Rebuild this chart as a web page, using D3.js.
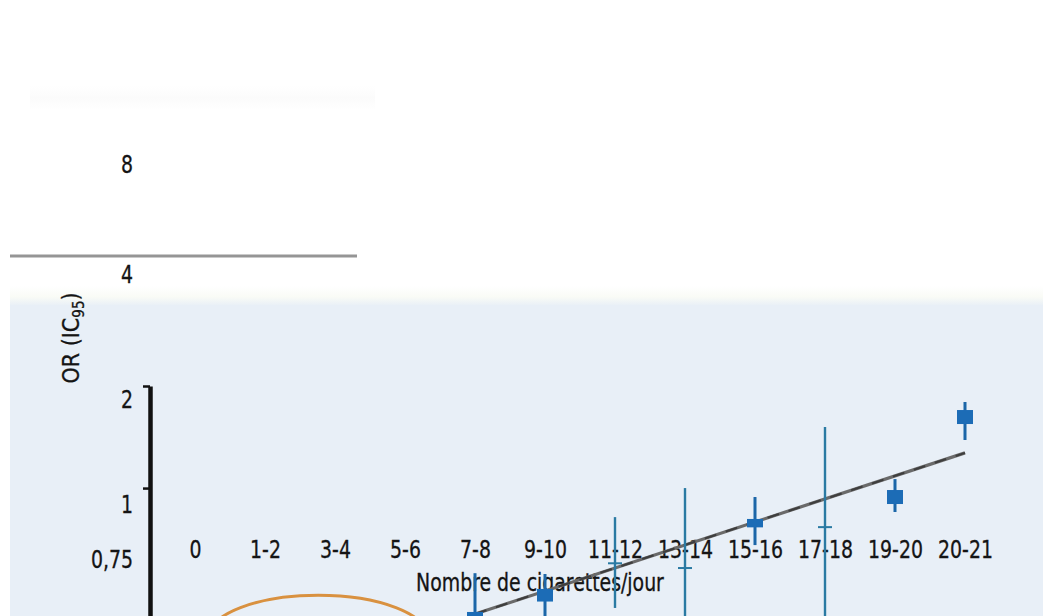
<!DOCTYPE html>
<html lang="fr">
<head>
<meta charset="utf-8">
<script src="https://cdn.jsdelivr.net/npm/d3@7"></script>
<style>
  html, body { margin: 0; padding: 0; background: #fff; }
  svg { display: block; }
  text { font-family: "DejaVu Sans Condensed", "DejaVu Sans", sans-serif; fill: #141414; stroke: #141414; stroke-width: 0.3px; }
</style>
</head>
<body>
<svg id="chart" width="1043" height="616"></svg>
<script>
// Catégories de consommation (cigarettes par jour)
const categories = ["0", "1-2", "3-4", "5-6", "7-8", "9-10", "11-12", "13-14", "15-16", "17-18", "19-20", "20-21"];

// Odds ratios et intervalles de confiance à 95 % (null = non visible)
const orValeurs = [null, null, null, null, 0.42, 0.483, 0.600, 0.581, 0.788, 0.767, 0.941, 1.620];
const icBas     = [null, null, null, null, 0.30, 0.36,  0.443, 0.35,  0.679, 0.35,  0.850, 1.386];
const icHaut    = [null, null, null, null, 0.561, 0.558, 0.821, 1.00, 0.941, 1.514, 1.063, 1.794];
// Poids relatif de chaque estimation (hauteur du carré)
const poids     = [null, null, null, null, 0.55, 0.9, 0.12, 0.12, 0.6, 0.12, 1.0, 1.0];

// Droite de tendance (OR ajusté aux extrémités)
const tendanceCat = ["7-8", "20-21"];
const tendanceOR  = [0.425, 1.27];

// Graduations de l'axe des OR
const graduations = [0.75, 1, 2, 4, 8];
const graduationsLabels = ["0,75", "1", "2", "4", "8"];

// Regroupement des faibles consommations (indice central, demi-largeur en catégories, OR haut / centre)
const regroupementCentre = [1.76];
const regroupementDemiLargeur = [1.57];
const regroupementOR = [0.483, 0.363];

const svg = d3.select("#chart");
const W = 1043, H = 616;
const ETROIT = 0.875; // compression horizontale du texte (police étroite)

// Fond : partie haute blanche, panneau bleuté en bas
const defs = svg.append("defs");
const fondu = defs.append("linearGradient").attr("id", "fondu").attr("x1", 0).attr("x2", 0).attr("y1", 0).attr("y2", 1);
fondu.append("stop").attr("offset", "0%").attr("stop-color", "#ffffff");
fondu.append("stop").attr("offset", "55%").attr("stop-color", "#f9fbf6");
fondu.append("stop").attr("offset", "100%").attr("stop-color", "#e8eff7");
const bande = defs.append("linearGradient").attr("id", "bande").attr("x1", 0).attr("x2", 0).attr("y1", 0).attr("y2", 1);
bande.append("stop").attr("offset", "0%").attr("stop-color", "#ffffff");
bande.append("stop").attr("offset", "50%").attr("stop-color", "#fbfbfb");
bande.append("stop").attr("offset", "100%").attr("stop-color", "#ffffff");
defs.append("filter").attr("id", "flou")
  .attr("filterUnits", "userSpaceOnUse").attr("x", 0).attr("y", 0).attr("width", W).attr("height", H)
  .append("feGaussianBlur").attr("stdDeviation", 0.6);

svg.append("rect").attr("width", W).attr("height", H).attr("fill", "#ffffff");
svg.append("rect").attr("x", 30).attr("y", 86).attr("width", 345).attr("height", 24).attr("fill", "url(#bande)");
svg.append("rect").attr("x", 10).attr("y", 286).attr("width", W - 10).attr("height", 20).attr("fill", "url(#fondu)");
svg.append("rect").attr("x", 10).attr("y", 305).attr("width", W - 10).attr("height", H - 305).attr("fill", "#e8eff7");

// Trait de séparation gris
svg.append("line")
  .attr("x1", 10).attr("x2", 357).attr("y1", 256).attr("y2", 256)
  .attr("stroke", "#959595").attr("stroke-width", 3.2).attr("filter", "url(#flou)");

// Échelles
const x = d3.scalePoint().domain(categories).range([195, 965]);
const xi = d3.scaleLinear().domain([0, categories.length - 1]).range([195, 965]);
const y = d3.scaleLog().base(2).domain([0.4, 2]).range([623, 386]);
const yLabel = d3.scaleLinear().domain(graduations).range([560, 505, 400, 275, 165]);

// Axe vertical (trait noir, graduations 1 et 2)
const axeY = svg.append("g").attr("transform", "translate(150,0)")
  .call(d3.axisLeft(y).tickValues([1, 2]).tickFormat("").tickSize(7).tickSizeOuter(0));
axeY.select(".domain").attr("stroke", "#111").attr("stroke-width", 4.5);
axeY.selectAll(".tick line").attr("stroke", "#111").attr("stroke-width", 2.5);

// Libellés des graduations
const axeLab = svg.append("g").attr("transform", "translate(133,0)")
  .call(d3.axisLeft(yLabel).tickValues(graduations).tickSize(0).tickPadding(0)
    .tickFormat((d, i) => graduationsLabels[i]));
axeLab.select(".domain").remove();
axeLab.selectAll("text").attr("font-size", 24).attr("fill", "#141414")
  .attr("transform", `scale(${ETROIT},1)`)
  .style("font-family", "\"DejaVu Sans Condensed\", \"DejaVu Sans\", sans-serif");

// Titre de l'axe vertical
const titreY = svg.append("text")
  .attr("transform", "translate(79,338) rotate(-90)")
  .attr("text-anchor", "middle").attr("font-size", 23);
titreY.append("tspan").text("OR (IC");
titreY.append("tspan").attr("font-size", 15).attr("dy", 5).text("95");
titreY.append("tspan").attr("dy", -5).text(")");

// Libellés des catégories
const axeX = svg.append("g").attr("transform", "translate(0,550)")
  .call(d3.axisBottom(x).tickSize(0).tickPadding(0));
axeX.select(".domain").remove();
axeX.selectAll("text").attr("font-size", 24).attr("dy", "0.35em").attr("fill", "#141414")
  .attr("transform", `scale(${ETROIT},1)`)
  .style("font-family", "\"DejaVu Sans Condensed\", \"DejaVu Sans\", sans-serif");

svg.append("text").attr("transform", `translate(540,591) scale(${ETROIT},1)`).attr("text-anchor", "middle")
  .attr("font-size", 24).text("Nombre de cigarettes/jour");

// Ellipse orange entourant les faibles consommations
const cx = xi(regroupementCentre[0]);
const rx = xi(regroupementCentre[0] + regroupementDemiLargeur[0]) - cx;
const cy = y(regroupementOR[1]);
const ry = cy - y(regroupementOR[0]);
svg.append("ellipse")
  .attr("cx", cx).attr("cy", cy).attr("rx", rx).attr("ry", ry)
  .attr("fill", "none").attr("stroke", "#d9913f").attr("stroke-width", 3)
  .attr("filter", "url(#flou)");

// Droite de tendance
svg.append("line")
  .attr("x1", x(tendanceCat[0])).attr("y1", y(tendanceOR[0]))
  .attr("x2", x(tendanceCat[1])).attr("y2", y(tendanceOR[1]))
  .attr("stroke", "#6b6b6b").attr("stroke-width", 3.2).attr("filter", "url(#flou)");
svg.append("line")
  .attr("x1", x(tendanceCat[0])).attr("y1", y(tendanceOR[0]))
  .attr("x2", x(tendanceCat[1])).attr("y2", y(tendanceOR[1]))
  .attr("stroke", "#3e3e3e").attr("stroke-width", 2).attr("stroke-dasharray", "12,10");

// Estimations : intervalle de confiance + carré proportionnel au poids
const points = categories.map((c, i) => ({ c, or: orValeurs[i], bas: icBas[i], haut: icHaut[i], p: poids[i] }))
  .filter(d => d.or !== null);
const hauteur = d3.scaleLinear().domain([0, 1]).range([0, 14]);

const g = svg.append("g").attr("filter", "url(#flou)");
g.selectAll("line.ic").data(points).join("line").attr("class", "ic")
  .attr("x1", d => x(d.c)).attr("x2", d => x(d.c))
  .attr("y1", d => y(d.haut)).attr("y2", d => y(d.bas))
  .attr("stroke", d => d.p > 0.3 ? "#1d66a8" : "#2a7aa3")
  .attr("stroke-width", d => d.p > 0.3 ? 3 : 2.4);
g.selectAll("rect.est").data(points).join("rect").attr("class", "est")
  .attr("x", d => x(d.c) - (d.p > 0.3 ? 8 : 7))
  .attr("width", d => d.p > 0.3 ? 16 : 14)
  .attr("y", d => y(d.or) - Math.max(2, hauteur(d.p)) / 2)
  .attr("height", d => Math.max(2, hauteur(d.p)))
  .attr("fill", d => d.p > 0.3 ? "#1b6cb6" : "#2a7aa3");
</script>
</body>
</html>
